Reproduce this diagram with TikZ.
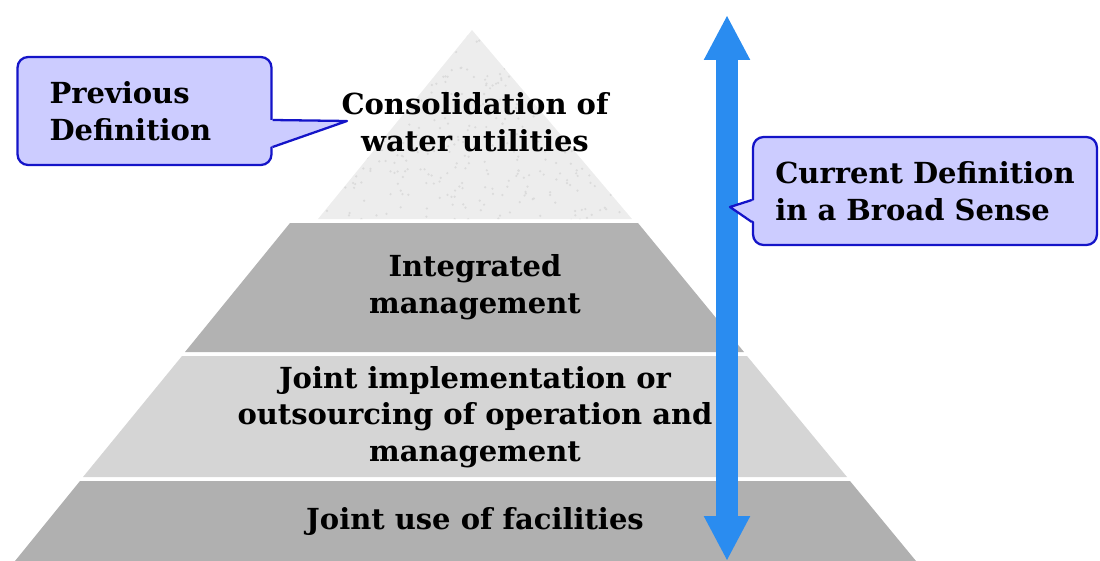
\documentclass[tikz,border=0pt]{standalone}
\usepackage{fontspec}
\setmainfont{DejaVu Serif}
\usetikzlibrary{arrows.meta,calc}

\begin{document}
\begin{tikzpicture}[>=Stealth,x=0.02cm,y=-0.02cm,
    every node/.style={font=\bfseries\fontsize{16.5}{20.8}\selectfont},
    layertext/.style={align=center},
    callbox/.style={draw=calloutline,line width=1.3pt,fill=calloutfill,
      rounded corners=6pt,align=left,inner xsep=0.64cm,minimum height=2.16cm}]
  \definecolor{calloutfill}{RGB}{204,204,255}
  \definecolor{calloutline}{RGB}{20,20,200}
  \definecolor{arrowblue}{RGB}{42,140,240}
  \useasboundingbox (0,0) rectangle (1100,561);
  % pyramid layers
  \fill[gray!14] (472,30) -- (632,219) -- (318,219) -- cycle;
  \begin{scope}
    \clip (472,30) -- (632,219) -- (318,219) -- cycle;
    \pgfmathsetseed{11}
    \foreach \i in {1,...,450}
      \fill[gray!28] (472+160*rand,125+95*rand) circle (0.7pt);
  \end{scope}
  \fill[gray!60] (290,223) -- (638,223) -- (744,352) -- (185,352) -- cycle;
  \fill[gray!33] (182,356) -- (747,356) -- (847,477) -- (83,477) -- cycle;
  \fill[gray!62] (80,481) -- (850,481) -- (916,561) -- (15,561) -- cycle;
  \node[layertext] (consol) at (475,122) {Consolidation of\\water utilities};
  \node[layertext] (integ) at (475,287) {Integrated\\management};
  \node[layertext] (jointop) at (475,417)
    {Joint implementation or\\outsourcing of operation and\\management};
  \node[layertext] (jointuse) at (475,521) {Joint use of facilities};
  % broad-sense arrow
  \coordinate (arrtop) at (727,15);
  \coordinate (arrbot) at (727,561);
  \draw[arrowblue,line width=0.44cm,
    {Triangle[width=0.86cm,length=0.9cm]}-{Triangle[width=0.86cm,length=0.9cm]}]
    (arrtop) -- (arrbot);
  % callouts
  \node[callbox,text width=3.8cm] (prevdef) at (144.5,111) {Previous\\Definition};
  \coordinate (prevtip) at (347,121);
  \fill[calloutfill] ($(prevdef.east)+(-3,9)$) -- (prevtip) -- ($(prevdef.east)+(-3,36)$) -- cycle;
  \draw[calloutline,line width=1.3pt,line join=round]
    ($(prevdef.east)+(0,9)$) -- (prevtip) -- ($(prevdef.east)+(0,36)$);
  \node[callbox,inner xsep=0pt,minimum width=6.88cm] (currdef) at (925,191)
    {Current Definition\\in a Broad Sense};
  \coordinate (currtip) at (730,207);
  \fill[calloutfill] ($(currdef.west)+(3,9)$) -- (currtip) -- ($(currdef.west)+(3,31)$) -- cycle;
  \draw[calloutline,line width=1.3pt,line join=round]
    ($(currdef.west)+(0,9)$) -- (currtip) -- ($(currdef.west)+(0,31)$);
\end{tikzpicture}
\end{document}
